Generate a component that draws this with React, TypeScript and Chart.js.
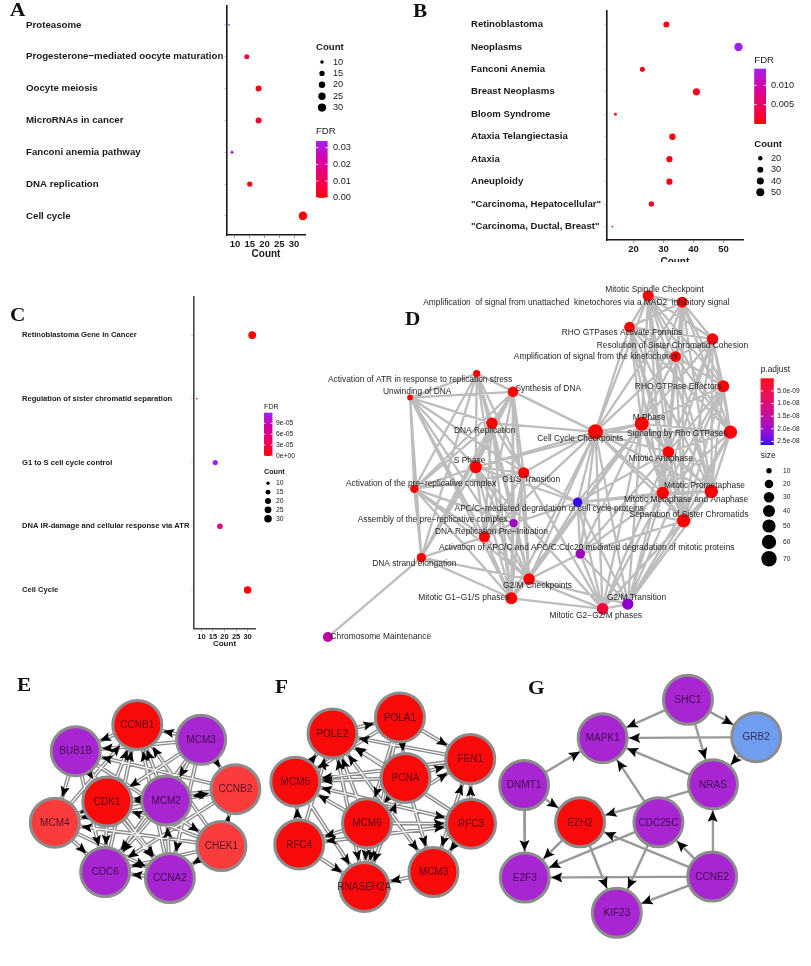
import React, { useEffect, useRef } from 'react';
import { Chart, registerables } from 'chart.js';

Chart.register(...registerables);

const SANS = '"Liberation Sans", Arial, Helvetica, sans-serif';
const SERIF = '"Liberation Serif", "Times New Roman", Times, serif';

// ================= Panel A : KEGG =================
const aTerms = ['Proteasome', 'Progesterone−mediated oocyte maturation', 'Oocyte meiosis', 'MicroRNAs in cancer', 'Fanconi anemia pathway', 'DNA replication', 'Cell cycle'];
const aCounts = [8, 14, 18, 18, 9, 15, 33];
const aFdr = [0.034, 0.0065, 0.0012, 0.0035, 0.031, 0.0009, 0.0001];
const aCountTicks = [10, 15, 20, 25, 30];
const aSizeBreaks = [10, 15, 20, 25, 30];
const aFdrBreaks = [0.03, 0.02, 0.01, 0];
const aFdrLabels = ['0.03', '0.02', '0.01', '0.00'];

// ================= Panel B : disease =================
const bTerms = ['Retinoblastoma', 'Neoplasms', 'Fanconi Anemia', 'Breast Neoplasms', 'Bloom Syndrome', 'Ataxia Telangiectasia', 'Ataxia', 'Aneuploidy', '"Carcinoma, Hepatocellular"', '"Carcinoma, Ductal, Breast"'];
const bCounts = [31, 55, 23, 41, 14, 33, 32, 32, 26, 13];
const bFdr = [0.0005, 0.0143, 0.0004, 0.0008, 0.0006, 0.0005, 0.0005, 0.0005, 0.0016, 0.009];
const bCountTicks = [20, 30, 40, 50];
const bSizeBreaks = [20, 30, 40, 50];
const bFdrBreaks = [0.01, 0.005];
const bFdrLabels = ['0.010', '0.005'];

// ================= Panel C : WikiPathways =================
const cTerms = ['Retinoblastoma Gene in Cancer', 'Regulation of sister chromatid separation', 'G1 to S cell cycle control', 'DNA IR-damage and cellular response via ATR', 'Cell Cycle'];
const cCounts = [32, 8, 16, 18, 30];
const cFdr = [2e-7, 3e-6, 1.19e-4, 6.4e-5, 6e-7];
const cCountTicks = [10, 15, 20, 25, 30];
const cSizeBreaks = [10, 15, 20, 25, 30];
const cFdrBreaks = [9e-5, 6e-5, 3e-5, 0];
const cFdrLabels = ['9e-05', '6e-05', '3e-05', '0e+00'];

// ================= Panel D : Reactome enrichment map =================
const dTerms = [
  'Mitotic Spindle Checkpoint',
  'Amplification  of signal from unattached  kinetochores via a MAD2  inhibitory signal',
  'RHO GTPases Activate Formins',
  'Resolution of Sister Chromatid Cohesion',
  'Amplification of signal from the kinetochores',
  'RHO GTPase Effectors',
  'M Phase',
  'Signaling by Rho GTPases',
  'Cell Cycle Checkpoints',
  'Mitotic Anaphase',
  'Activation of ATR in response to replication stress',
  'Unwinding of DNA',
  'Synthesis of DNA',
  'DNA Replication',
  'S Phase',
  'G1/S Transition',
  'Activation of the pre−replicative complex',
  'APC/C−mediated degradation of cell cycle proteins',
  'Assembly of the pre−replicative complex',
  'DNA Replication Pre−Initiation',
  'Activation of APC/C and APC/C:Cdc20 mediated degradation of mitotic proteins',
  'DNA strand elongation',
  'G2/M Checkpoints',
  'Mitotic G1−G1/S phases',
  'Mitotic G2−G2/M phases',
  'G2/M Transition',
  'Chromosome Maintenance',
  'Separation of Sister Chromatids',
  'Mitotic Prometaphase',
  'Mitotic Metaphase and Anaphase',
];
const dSize = [34, 34, 31, 37, 31, 40, 57, 51, 66, 37, 15, 11, 31, 37, 43, 34, 19, 24, 19, 34, 25, 24, 37, 40, 37, 36, 27, 51, 51, 43];
const dPadj = [1e-12, 3e-12, 5e-11, 2e-12, 3e-12, 1e-10, 1e-18, 4e-10, 1e-25, 1e-13, 1e-11, 1e-10, 1e-20, 1e-22, 1e-20, 1e-18, 1e-12, 2.56e-8, 1.98e-8, 1e-14, 1.9e-8, 1e-14, 1e-16, 1e-18, 4e-9, 2.1e-8, 1.58e-8, 1e-14, 1e-16, 1e-14];
// layout of the network (graph layout units)
const dX = [651, 686, 631.7, 717.3, 679.3, 728.3, 644.3, 735.7, 596.7, 671.7, 474.3, 405.7, 511.7, 490, 473.3, 522.7, 410, 578.3, 512.3, 482.3, 581, 417.3, 528.3, 510, 604, 630, 321, 687.5, 716, 666];
const dY = [289, 295.7, 321.7, 334, 352.3, 383.3, 422.3, 431, 430.7, 451.7, 370, 395, 389, 421.7, 467.3, 473.3, 490, 504, 525.7, 540, 557.7, 561.7, 584, 604, 615, 610, 644.3, 523.3, 492.7, 494.3];
const dLabelX = [657.5, 577, 624, 676, 597, 682, 652, 681, 581, 664, 416, 413, 548, 482.5, 467, 530.5, 417, 549, 429, 489.5, 587.7, 410, 537, 461, 597, 639, 375.5, 693, 709, 690];
const dLabelY = [283, 296.7, 327.7, 340.7, 352.3, 384, 416, 432.3, 437.7, 459, 376, 389, 386, 429.3, 460.7, 480.7, 485, 511, 521.7, 534.3, 551.7, 568.3, 590.7, 603.3, 621.7, 603.3, 644, 517.3, 486.7, 501.7];
const dEdges: [number, number][] = [
  [0, 1], [0, 2], [0, 3], [0, 4], [0, 5], [0, 6], [0, 7], [0, 9], [0, 27], [0, 28], [0, 29],
  [1, 2], [1, 3], [1, 4], [1, 5], [1, 6], [1, 7], [1, 9], [1, 27], [1, 28], [1, 29],
  [2, 3], [2, 4], [2, 5], [2, 6], [2, 7], [2, 9], [2, 27], [2, 28], [2, 29],
  [3, 4], [3, 5], [3, 6], [3, 7], [3, 9], [3, 27], [3, 28], [3, 29],
  [4, 5], [4, 6], [4, 7], [4, 9], [4, 27], [4, 28], [4, 29],
  [5, 6], [5, 7], [5, 9], [5, 27], [5, 28], [5, 29],
  [6, 7], [6, 9], [6, 27], [6, 28], [6, 29],
  [7, 9], [7, 27], [7, 28], [7, 29],
  [9, 27], [9, 28], [9, 29], [27, 28], [27, 29], [28, 29],
  [8, 0], [8, 1], [8, 2], [8, 4], [8, 6], [8, 7], [8, 9], [8, 27], [8, 28], [8, 29], [8, 17], [8, 20], [8, 22], [8, 24], [8, 25], [8, 14], [8, 15], [8, 12], [8, 10], [8, 23], [8, 19], [8, 13],
  [10, 11], [10, 12], [10, 13], [10, 14], [10, 15], [10, 16], [10, 21], [10, 22], [10, 23],
  [11, 12], [11, 13], [11, 14], [11, 15], [11, 16], [11, 19], [11, 21], [11, 22], [11, 23],
  [12, 13], [12, 14], [12, 15], [12, 16], [12, 18], [12, 19], [12, 21], [12, 22], [12, 23],
  [13, 14], [13, 15], [13, 16], [13, 18], [13, 19], [13, 21], [13, 22], [13, 23],
  [14, 15], [14, 16], [14, 17], [14, 18], [14, 19], [14, 21], [14, 22], [14, 23], [14, 24], [14, 6],
  [15, 16], [15, 17], [15, 18], [15, 19], [15, 22], [15, 23], [15, 24],
  [16, 18], [16, 19], [16, 21], [16, 22], [16, 23],
  [17, 18], [17, 20], [17, 24], [17, 25], [17, 6], [17, 9], [17, 27], [17, 28], [17, 29],
  [18, 19], [18, 22], [18, 23],
  [19, 21], [19, 22], [19, 23],
  [20, 22], [20, 24], [20, 25], [20, 6], [20, 9], [20, 27], [20, 29],
  [21, 22], [21, 23], [21, 26],
  [22, 23], [22, 24], [22, 25], [22, 17], [22, 6],
  [23, 24], [23, 6],
  [24, 25], [24, 6], [24, 9], [24, 27], [24, 28], [24, 29],
  [25, 5], [25, 6], [25, 7], [25, 9], [25, 27], [25, 28], [25, 29],
];
const dSizeBreaks = [10, 20, 30, 40, 50, 60, 70];
const dPadjBreaks = [5e-9, 1e-8, 1.5e-8, 2e-8, 2.5e-8];
const dPadjLabels = ['5.0e-09', '1.0e-08', '1.5e-08', '2.0e-08', '2.5e-08'];

// ================= Panels E, F, G : PPI modules =================
const eGenes = ['CCNB1', 'MCM3', 'BUB1B', 'CCNB2', 'CDK1', 'MCM2', 'MCM4', 'CHEK1', 'CDC6', 'CCNA2'];
const eLevel = ['top', 'low', 'low', 'mid', 'top', 'low', 'mid', 'mid', 'low', 'low'];
const eX = [117.8, 186.2, 51.7, 223, 85.5, 148.8, 29.3, 208, 83.3, 152.7];
const eY = [708.3, 726.3, 740, 785.8, 800.8, 799.5, 826.3, 854.5, 885.8, 893];
const eEdges: [number, number][] = [
  [0, 2], [2, 6], [1, 0], [4, 0], [5, 0], [9, 0], [7, 0], [8, 0], [6, 0], [3, 2], [1, 4], [1, 5], [1, 8], [1, 9], [1, 3], [5, 3], [3, 5],
  [2, 7], [2, 9], [4, 8], [4, 9], [9, 5], [5, 4], [6, 8], [6, 9], [7, 6], [3, 6], [7, 3], [3, 8], [7, 9], [9, 8], [7, 4], [7, 8], [5, 6],
  [2, 4], [1, 2], [4, 6], [3, 4], [2, 8], [5, 8],
];
const fGenes = ['POLA1', 'POLE2', 'FEN1', 'MCM5', 'PCNA', 'MCM6', 'RFC3', 'RFC4', 'MCM3', 'RNASEH2A'];
const fLevel = ['top', 'top', 'top', 'top', 'top', 'top', 'top', 'top', 'top', 'top'];
const fX = [399.5, 327.2, 475, 287.3, 405.5, 364.2, 475.8, 291.5, 435.5, 361.3];
const fY = [699.2, 718.5, 749.5, 776.7, 772.2, 826.8, 827.5, 852.5, 885.8, 903.8];
const fEdges: [number, number][] = [
  [1, 0], [0, 2], [3, 1], [5, 1], [6, 1], [4, 1], [8, 1], [9, 1], [7, 1], [0, 4], [4, 3], [2, 3], [6, 3], [5, 3], [4, 2], [6, 2], [8, 2],
  [5, 2], [7, 3], [3, 9], [5, 9], [4, 9], [1, 9], [0, 9], [7, 9], [8, 9], [6, 7], [5, 7], [4, 8], [2, 8], [6, 8], [1, 8], [7, 6], [3, 6],
  [4, 5], [0, 5], [5, 6], [0, 3], [2, 1], [9, 4],
];
const gGenes = ['SHC1', 'GRB2', 'MAPK1', 'DNMT1', 'NRAS', 'EZH2', 'CDC25C', 'E2F3', 'CCNE2', 'KIF23'];
const gLevel = ['low', 'blue', 'low', 'low', 'low', 'top', 'low', 'low', 'low', 'low'];
const gX = [708.5, 781.7, 617, 532.7, 735.3, 592.8, 676.8, 533.5, 734.5, 632.2];
const gY = [678, 723, 724.2, 780.8, 780, 825.8, 825.8, 892.5, 891.3, 935];
const gEdges: [number, number][] = [
  [0, 2], [0, 1], [0, 4], [1, 2], [1, 4], [4, 2], [4, 5], [3, 2], [3, 5], [3, 7], [6, 2], [6, 7], [6, 9], [5, 7], [5, 9],
  [8, 5], [8, 6], [8, 4], [8, 7], [8, 9],
];

// ================= colour helpers =================
type RGB = [number, number, number];
const RED: RGB = [255, 0, 0];
const PURPLE: RGB = [160, 32, 240];
const BLUE: RGB = [0, 0, 255];
const nodePalette: Record<string, string> = { top: '#fb0a0a', mid: '#fa3c3c', low: '#a826d2', blue: '#6f9ef0' };

function toLin(c: number) { c /= 255; return c <= 0.04045 ? c / 12.92 : Math.pow((c + 0.055) / 1.055, 2.4); }
function fromLin(c: number) {
  const v = c <= 0.0031308 ? 12.92 * c : 1.055 * Math.pow(Math.max(c, 0), 1 / 2.4) - 0.055;
  return Math.round(Math.max(0, Math.min(1, v)) * 255);
}
function rgbToLab(rgb: RGB) {
  const [r, g, b] = rgb.map(toLin);
  const x = (0.4124 * r + 0.3576 * g + 0.1805 * b) / 0.95047;
  const y = 0.2126 * r + 0.7152 * g + 0.0722 * b;
  const z = (0.0193 * r + 0.1192 * g + 0.9505 * b) / 1.08883;
  const f = (t: number) => (t > 0.008856 ? Math.cbrt(t) : 7.787 * t + 16 / 116);
  const fx = f(x), fy = f(y), fz = f(z);
  return [116 * fy - 16, 500 * (fx - fy), 200 * (fy - fz)];
}
function labToRgb(L: number, a: number, b: number) {
  const fy = (L + 16) / 116, fx = fy + a / 500, fz = fy - b / 200;
  const inv = (t: number) => (t * t * t > 0.008856 ? t * t * t : (t - 16 / 116) / 7.787);
  const x = inv(fx) * 0.95047, y = inv(fy), z = inv(fz) * 1.08883;
  const r = 3.2406 * x - 1.5372 * y - 0.4986 * z;
  const g = -0.9689 * x + 1.8758 * y + 0.0415 * z;
  const bb = 0.0557 * x - 0.204 * y + 1.057 * z;
  return `rgb(${fromLin(r)},${fromLin(g)},${fromLin(bb)})`;
}
function mixLab(c1: RGB, c2: RGB, t: number) {
  t = Math.max(0, Math.min(1, t));
  const a = rgbToLab(c1), b = rgbToLab(c2);
  return labToRgb(a[0] + (b[0] - a[0]) * t, a[1] + (b[1] - a[1]) * t, a[2] + (b[2] - a[2]) * t);
}

function drawLetter(ctx: CanvasRenderingContext2D, text: string, x: number, y: number) {
  ctx.save();
  ctx.font = `bold 19px ${SERIF}`;
  ctx.fillStyle = '#111';
  ctx.textAlign = 'left';
  ctx.textBaseline = 'alphabetic';
  ctx.translate(x, y);
  ctx.scale(1.12, 1);
  ctx.fillText(text, 0, 0);
  ctx.restore();
}

// ================= dot-plot panels (A, B, C) =================
const panelA = {
  letter: 'A', letterX: 10, letterY: 16,
  terms: aTerms, counts: aCounts, fdr: aFdr, xTicks: aCountTicks, sizeBreaks: aSizeBreaks, fdrBreaks: aFdrBreaks, fdrLabels: aFdrLabels,
  fdrMax: 0.034, rMin: 0.8, rMax: 4.3,
  padLeft: 26, padTop: 3, padRight: 95, yAxisWidth: 201, xAxisHeight: 27, xMin: 7.3, xMax: 33.7,
  labelSize: 9.7, tickSize: 9.5, titleSize: 10, titlePadBottom: 2, axisColor: '#1a1a1a',
  lg: { countTitle: [316, 47], countDotX: 322, countLabelX: 333, countY0: 62, countStep: 11.4,
    fdrTitle: [316, 131.5], bar: [316, 141, 11.5, 56.7], fdrLabelX: 333, font: 9.2, titleFont: 9.6 },
};
const panelB = {
  letter: 'B', letterX: 13, letterY: 17,
  terms: bTerms, counts: bCounts, fdr: bFdr, xTicks: bCountTicks, sizeBreaks: bSizeBreaks, fdrBreaks: bFdrBreaks, fdrLabels: bFdrLabels,
  fdrMax: 0.0143, rMin: 0.9, rMax: 4.2,
  padLeft: 71, padTop: 11, padRight: 68, yAxisWidth: 135.7, xAxisHeight: 22, xMin: 11.1, xMax: 56.5,
  labelSize: 9.6, tickSize: 9.5, titleSize: 10, titlePadBottom: -6, axisColor: '#1a1a1a',
  lg: { countTitle: [354.3, 144], countDotX: 360.3, countLabelX: 371, countY0: 158.3, countStep: 11.35,
    fdrTitle: [354.3, 60], bar: [354.3, 68.7, 11.7, 55.3], fdrLabelX: 371, font: 9.2, titleFont: 9.6 },
};
const panelC = {
  letter: 'C', letterX: 10, letterY: 41,
  terms: cTerms, counts: cCounts, fdr: cFdr, xTicks: cCountTicks, sizeBreaks: cSizeBreaks, fdrBreaks: cFdrBreaks, fdrLabels: cFdrLabels,
  fdrMax: 1.19e-4, rMin: 0.8, rMax: 3.9,
  padLeft: 22, padTop: 16.8, padRight: 45, yAxisWidth: 172, xAxisHeight: 21.7, xMin: 6.8, xMax: 33.2,
  labelSize: 7.6, tickSize: 7.5, titleSize: 8, titlePadBottom: 1, axisColor: '#444',
  lg: { countTitle: [264, 192.3], countDotX: 268, countLabelX: 276, countY0: 203.3, countStep: 8.85,
    fdrTitle: [264, 126.7], bar: [264, 132.7, 8.3, 43.3], fdrLabelX: 276, font: 6.8, titleFont: 7.2 },
};

function sizeScale(counts: number[], rMin: number, rMax: number) {
  const lo = Math.min(...counts), hi = Math.max(...counts);
  return (v: number) => rMin + (rMax - rMin) * Math.sqrt(Math.max(0, Math.min(1, (v - lo) / (hi - lo))));
}

function dotLegendPlugin(p: any) {
  const rOf = sizeScale(p.counts, p.rMin, p.rMax);
  return {
    id: 'dotLegend' + p.letter,
    afterDraw(chart: any) {
      const ctx: CanvasRenderingContext2D = chart.ctx;
      const L = p.lg;
      drawLetter(ctx, p.letter, p.letterX, p.letterY);
      ctx.save();
      ctx.textAlign = 'left';
      ctx.textBaseline = 'middle';
      ctx.fillStyle = '#1a1a1a';
      ctx.font = `bold ${L.titleFont}px ${SANS}`;
      ctx.fillText('Count', L.countTitle[0], L.countTitle[1]);
      ctx.font = `${L.font}px ${SANS}`;
      p.sizeBreaks.forEach((v: number, i: number) => {
        const yy = L.countY0 + i * L.countStep;
        ctx.beginPath();
        ctx.arc(L.countDotX, yy, rOf(v), 0, Math.PI * 2);
        ctx.fillStyle = '#000';
        ctx.fill();
        ctx.fillStyle = '#1a1a1a';
        ctx.fillText(String(v), L.countLabelX, yy);
      });
      ctx.font = `${L.titleFont}px ${SANS}`;
      ctx.fillText('FDR', L.fdrTitle[0], L.fdrTitle[1]);
      const [bx, by, bw, bh] = L.bar;
      const n = Math.ceil(bh);
      for (let k = 0; k < n; k++) {
        const t = 1 - (k + 0.5) / bh;
        ctx.fillStyle = mixLab(RED, PURPLE, t);
        ctx.fillRect(bx, by + k, bw, Math.min(1.5, bh - k));
      }
      ctx.font = `${L.font}px ${SANS}`;
      p.fdrBreaks.forEach((v: number, i: number) => {
        const yy = by + bh - (v / p.fdrMax) * bh;
        ctx.strokeStyle = 'rgba(255,255,255,0.9)';
        ctx.lineWidth = 1;
        ctx.beginPath();
        ctx.moveTo(bx, yy); ctx.lineTo(bx + bw * 0.2, yy);
        ctx.moveTo(bx + bw * 0.8, yy); ctx.lineTo(bx + bw, yy);
        ctx.stroke();
        ctx.fillStyle = '#1a1a1a';
        ctx.fillText(p.fdrLabels[i], L.fdrLabelX, yy);
      });
      ctx.restore();
    },
  };
}

function dotConfig(p: any): any {
  const rOf = sizeScale(p.counts, p.rMin, p.rMax);
  const n = p.terms.length;
  const bold = (size: number) => ({ family: SANS, size, weight: 'bold' as const });
  return {
    type: 'bubble',
    data: {
      datasets: [{
        data: p.counts.map((c: number, i: number) => ({ x: c, y: i, r: rOf(c) })),
        backgroundColor: p.fdr.map((f: number) => mixLab(RED, PURPLE, f / p.fdrMax)),
        borderWidth: 0,
        hoverBorderWidth: 0,
        clip: false,
      }],
    },
    options: {
      responsive: false, animation: false, devicePixelRatio: 1, events: [],
      layout: { padding: { left: p.padLeft, top: p.padTop, right: p.padRight, bottom: 0 } },
      plugins: { legend: { display: false }, tooltip: { enabled: false } },
      scales: {
        x: {
          type: 'linear', min: p.xMin, max: p.xMax,
          afterFit: (s: any) => { s.height = p.xAxisHeight; },
          afterBuildTicks: (s: any) => { s.ticks = p.xTicks.map((v: number) => ({ value: v })); },
          ticks: { font: bold(p.tickSize), color: '#1a1a1a', padding: 1, maxRotation: 0, autoSkip: false },
          grid: { drawOnChartArea: false, tickLength: 3, color: '#9a9a9a' },
          border: { color: p.axisColor, width: 1.6 },
          title: { display: true, text: 'Count', font: bold(p.titleSize), color: '#1a1a1a', padding: { top: 0, bottom: p.titlePadBottom } },
        },
        y: {
          type: 'linear', reverse: true, min: -0.6, max: n - 0.4,
          afterFit: (s: any) => { s.width = p.yAxisWidth; },
          afterBuildTicks: (s: any) => { s.ticks = p.terms.map((_: string, i: number) => ({ value: i })); },
          ticks: { callback: (v: number) => p.terms[v], crossAlign: 'far', font: bold(p.labelSize), color: '#1a1a1a', autoSkip: false, padding: 0 },
          grid: { drawOnChartArea: false, tickLength: 3, color: '#d4d4d4' },
          border: { color: p.axisColor, width: 1.6 },
        },
      },
    },
    plugins: [dotLegendPlugin(p)],
  };
}

// ================= enrichment map (D) =================
function dRadius(s: number) { return 1.6 + 6.1 * Math.sqrt(Math.max(0, (s - 8) / 62)); }
const D_PMAX = 2.64e-8;

function edgeData(X: number[], Y: number[], edges: [number, number][]) {
  const out: { x: number; y: number }[] = [];
  edges.forEach(([s, t]) => {
    out.push({ x: X[s], y: Y[s] }, { x: X[t], y: Y[t] }, { x: NaN, y: NaN });
  });
  return out;
}

function dConfig(): any {
  const labelPlugin = {
    id: 'dLabels',
    afterDatasetsDraw(chart: any) {
      const ctx: CanvasRenderingContext2D = chart.ctx;
      const { x, y } = chart.scales;
      ctx.save();
      ctx.font = `8.4px ${SANS}`;
      ctx.fillStyle = '#262626';
      ctx.textAlign = 'center';
      ctx.textBaseline = 'middle';
      dTerms.forEach((t, i) => ctx.fillText(t, x.getPixelForValue(dLabelX[i]), y.getPixelForValue(dLabelY[i])));
      ctx.restore();
    },
    afterDraw(chart: any) {
      const ctx: CanvasRenderingContext2D = chart.ctx;
      drawLetter(ctx, 'D', 105, 55);
      ctx.save();
      ctx.textAlign = 'left';
      ctx.textBaseline = 'middle';
      ctx.fillStyle = '#1a1a1a';
      ctx.font = `8.4px ${SANS}`;
      ctx.fillText('p.adjust', 460.7, 100);
      const bx = 460.7, by = 108.3, bw = 13, bh = 66.7;
      for (let k = 0; k < Math.ceil(bh); k++) {
        ctx.fillStyle = mixLab(RED, BLUE, (k + 0.5) / bh);
        ctx.fillRect(bx, by + k, bw, Math.min(1.5, bh - k));
      }
      ctx.font = `6.6px ${SANS}`;
      dPadjBreaks.forEach((v, i) => {
        const yy = by + (v / D_PMAX) * bh;
        ctx.strokeStyle = 'rgba(255,255,255,0.9)';
        ctx.lineWidth = 1;
        ctx.beginPath();
        ctx.moveTo(bx, yy); ctx.lineTo(bx + 2.5, yy);
        ctx.moveTo(bx + bw - 2.5, yy); ctx.lineTo(bx + bw, yy);
        ctx.stroke();
        ctx.fillStyle = '#1a1a1a';
        ctx.fillText(dPadjLabels[i], 477.3, yy);
      });
      ctx.font = `8.4px ${SANS}`;
      ctx.fillText('size', 460.7, 186);
      const keyY = [200.7, 214, 227.3, 241, 256, 272, 288.7];
      ctx.font = `6.6px ${SANS}`;
      dSizeBreaks.forEach((v, i) => {
        ctx.beginPath();
        ctx.arc(469, keyY[i], dRadius(v), 0, Math.PI * 2);
        ctx.fillStyle = '#000';
        ctx.fill();
        ctx.fillStyle = '#1a1a1a';
        ctx.fillText(String(v), 483, keyY[i]);
      });
      ctx.restore();
    },
  };
  return {
    type: 'scatter',
    data: {
      datasets: [
        {
          label: 'edges', data: edgeData(dX, dY, dEdges), showLine: true, spanGaps: false,
          borderColor: '#bdbdbd', borderWidth: 2.3, pointRadius: 0, order: 2, clip: false,
        },
        {
          label: 'nodes', data: dX.map((x, i) => ({ x, y: dY[i] })),
          pointRadius: dSize.map(dRadius), pointHoverRadius: dSize.map(dRadius),
          pointBackgroundColor: dPadj.map((p) => mixLab(RED, BLUE, p / D_PMAX)),
          pointBorderWidth: 0, order: 1, clip: false,
        },
      ],
    },
    options: {
      responsive: false, animation: false, devicePixelRatio: 1, events: [],
      layout: { padding: 0 },
      plugins: { legend: { display: false }, tooltip: { enabled: false } },
      scales: {
        x: { type: 'linear', min: 300, max: 811, display: false },
        y: { type: 'linear', min: 270, max: 650, reverse: true, display: false },
      },
    },
    plugins: [labelPlugin],
  };
}

// ================= PPI networks (E, F, G) =================
const NODE_R = 24.5;
const NODE_BORDER = 3;

function networkConfig(): any {
  const genes = [...eGenes, ...fGenes, ...gGenes];
  const levels = [...eLevel, ...fLevel, ...gLevel];
  const X = [...eX, ...fX, ...gX];
  const Y = [...eY, ...fY, ...gY];
  const doubleEdges = [...edgeData(eX, eY, eEdges), ...edgeData(fX, fY, fEdges)];
  const singleEdges = edgeData(gX, gY, gEdges);
  const arrowSets = [
    { X: eX, Y: eY, edges: eEdges, len: 11, half: 4.6 },
    { X: fX, Y: fY, edges: fEdges, len: 11, half: 4.6 },
    { X: gX, Y: gY, edges: gEdges, len: 11, half: 5 },
  ];
  const plugin = {
    id: 'netDeco',
    beforeDatasetDraw(chart: any, args: any) {
      if (chart.data.datasets[args.index].label !== 'nodes') return;
      const ctx: CanvasRenderingContext2D = chart.ctx;
      const { x, y } = chart.scales;
      ctx.save();
      ctx.fillStyle = '#000';
      arrowSets.forEach((set) => {
        set.edges.forEach(([s, t]) => {
          const x1 = x.getPixelForValue(set.X[s]), y1 = y.getPixelForValue(set.Y[s]);
          const x2 = x.getPixelForValue(set.X[t]), y2 = y.getPixelForValue(set.Y[t]);
          const d = Math.hypot(x2 - x1, y2 - y1);
          const ux = (x2 - x1) / d, uy = (y2 - y1) / d;
          const off = NODE_R + NODE_BORDER / 2 + 0.5;
          const tx = x2 - ux * off, ty = y2 - uy * off;
          const bx = tx - ux * set.len, by = ty - uy * set.len;
          ctx.beginPath();
          ctx.moveTo(tx, ty);
          ctx.lineTo(bx - uy * set.half, by + ux * set.half);
          ctx.lineTo(bx + ux * 2.2, by + uy * 2.2);
          ctx.lineTo(bx + uy * set.half, by - ux * set.half);
          ctx.closePath();
          ctx.fill();
        });
      });
      ctx.restore();
    },
    afterDatasetsDraw(chart: any) {
      const ctx: CanvasRenderingContext2D = chart.ctx;
      const { x, y } = chart.scales;
      ctx.save();
      ctx.font = `10px ${SANS}`;
      ctx.textAlign = 'center';
      ctx.textBaseline = 'middle';
      ctx.fillStyle = 'rgba(25,0,30,0.72)';
      genes.forEach((g, i) => ctx.fillText(g, x.getPixelForValue(X[i]), y.getPixelForValue(Y[i]) + 0.5));
      ctx.restore();
      drawLetter(ctx, 'E', 17, 46);
      drawLetter(ctx, 'F', 275, 48);
      drawLetter(ctx, 'G', 528, 49);
    },
  };
  return {
    type: 'scatter',
    data: {
      datasets: [
        { label: 'edgeOuter', data: doubleEdges, showLine: true, spanGaps: false, borderColor: '#8a8a8a', borderWidth: 4, pointRadius: 0, order: 3, clip: false },
        { label: 'edgeInner', data: doubleEdges, showLine: true, spanGaps: false, borderColor: '#f4f4f4', borderWidth: 1.4, pointRadius: 0, order: 2, clip: false },
        { label: 'edgeSingle', data: singleEdges, showLine: true, spanGaps: false, borderColor: '#999999', borderWidth: 2.4, pointRadius: 0, order: 2, clip: false },
        {
          label: 'nodes', data: X.map((x, i) => ({ x, y: Y[i] })),
          pointRadius: NODE_R, pointHoverRadius: NODE_R,
          pointBackgroundColor: levels.map((l) => nodePalette[l]),
          pointBorderColor: '#8c8c8c', pointBorderWidth: NODE_BORDER, order: 0, clip: false,
        },
      ],
    },
    options: {
      responsive: false, animation: false, devicePixelRatio: 1, events: [],
      layout: { padding: 0 },
      plugins: { legend: { display: false }, tooltip: { enabled: false } },
      scales: {
        x: { type: 'linear', min: 0, max: 811, display: false },
        y: { type: 'linear', min: 645, max: 966, reverse: true, display: false },
      },
    },
    plugins: [plugin],
  };
}

// ================= React =================
function ChartCanvas({ left, top, width, height, make }: { left: number; top: number; width: number; height: number; make: () => any }) {
  const ref = useRef<HTMLCanvasElement>(null);
  useEffect(() => {
    const chart = new Chart(ref.current as HTMLCanvasElement, make());
    return () => chart.destroy();
  }, []);
  return (
    <canvas
      ref={ref}
      width={width}
      height={height}
      style={{ position: 'absolute', left, top, width, height, display: 'block' }}
    />
  );
}

export default function App() {
  return (
    <div style={{ position: 'fixed', left: 0, top: 0, width: 811, height: 966, background: '#ffffff', overflow: 'hidden' }}>
      <ChartCanvas left={0} top={0} width={400} height={262} make={() => dotConfig(panelA)} />
      <ChartCanvas left={400} top={0} width={411} height={262} make={() => dotConfig(panelB)} />
      <ChartCanvas left={0} top={280} width={300} height={370} make={() => dotConfig(panelC)} />
      <ChartCanvas left={300} top={270} width={511} height={380} make={dConfig} />
      <ChartCanvas left={0} top={645} width={811} height={321} make={networkConfig} />
    </div>
  );
}
